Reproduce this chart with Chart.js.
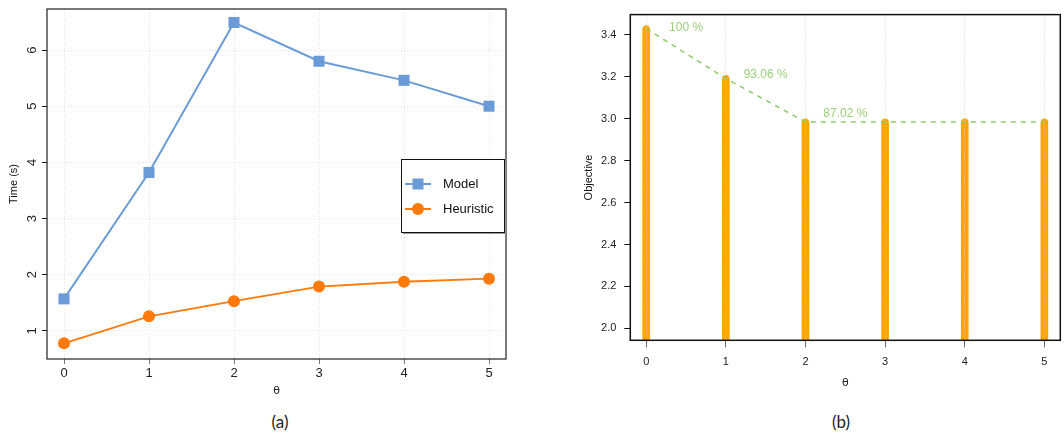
<!DOCTYPE html>
<html>
<head>
<meta charset="utf-8">
<script src="https://cdn.jsdelivr.net/npm/chart.js@4.4.1/dist/chart.umd.min.js"></script>
<style>
  body { margin: 0; background: #fff; width: 1064px; height: 436px; position: relative; overflow: hidden; }
  #left { position: absolute; left: 0; top: 0; }
  #right { position: absolute; left: 532px; top: 0; }
  .cap { position: absolute; top: 411px; font-family: Lato, sans-serif; font-size: 17px; color: #222; transform: translateX(-50%); }
</style>
</head>
<body>
<canvas id="left" width="532" height="398"></canvas>
<canvas id="right" width="532" height="390"></canvas>
<div class="cap" style="left:280px">(a)</div>
<div class="cap" style="left:841px">(b)</div>
<script>
// data
const theta = [0, 1, 2, 3, 4, 5];
const modelTime = [1.57, 3.82, 6.49, 5.80, 5.46, 5.00];
const heuristicTime = [0.78, 1.26, 1.53, 1.79, 1.875, 1.93];
const timeTicks = [1, 2, 3, 4, 5, 6];

const objective = [3.43, 3.192, 2.985, 2.985, 2.985, 2.985];
const ratioLabels = ['100 %', '93.06 %', '87.02 %'];
const objTicks = [2.0, 2.2, 2.4, 2.6, 2.8, 3.0, 3.2, 3.4];

const blue = '#6a9bd8';
const orange = '#ff7a0a';
const gold = '#ffa500';
const green = '#8fc96e';
const tickFont = { family: 'Liberation Sans', size: 13 };

const pts = (ys) => theta.map((t, i) => ({ x: t, y: ys[i] }));

//Left chart
const leftExtras = {
  id: 'leftExtras',
  afterDraw(chart) {
    const { ctx, chartArea: a, scales } = chart;
    ctx.save();
    ctx.strokeStyle = '#222'; ctx.lineWidth = 1.2;
    ctx.strokeRect(a.left, a.top, a.width, a.height);

    // y tick labels rotated, like R's default
    ctx.fillStyle = '#222';
    ctx.font = '13px "Liberation Sans"';
    ctx.textAlign = 'center';
    ctx.textBaseline = 'middle';
    timeTicks.forEach(v => {
      const y = scales.y.getPixelForValue(v);
      ctx.save();
      ctx.translate(a.left - 15, y);
      ctx.rotate(-Math.PI / 2);
      ctx.fillText(String(v), 0, 0);
      ctx.restore();
    });

    // legend box
    const lx = a.right - 105, ly = a.top + 150, lw = 103, lh = 73;
    ctx.fillStyle = '#999';
    ctx.fillRect(lx + 2, ly + 2, lw, lh);
    ctx.fillStyle = '#fff';
    ctx.fillRect(lx, ly, lw, lh);
    ctx.strokeStyle = '#111'; ctx.lineWidth = 1;
    ctx.strokeRect(lx + 0.5, ly + 0.5, lw, lh);

    const items = [
      { label: chart.data.datasets[0].label, color: blue, shape: 'rect', y: ly + 25 },
      { label: chart.data.datasets[1].label, color: orange, shape: 'circle', y: ly + 50 }
    ];
    items.forEach(it => {
      ctx.strokeStyle = it.color; ctx.lineWidth = 2;
      ctx.beginPath(); ctx.moveTo(lx + 4, it.y); ctx.lineTo(lx + 30, it.y); ctx.stroke();
      ctx.fillStyle = it.color;
      if (it.shape === 'rect') ctx.fillRect(lx + 17 - 5.5, it.y - 5.5, 11, 11);
      else { ctx.beginPath(); ctx.arc(lx + 17, it.y, 6, 0, Math.PI * 2); ctx.fill(); }
      ctx.fillStyle = '#111';
      ctx.textAlign = 'left';
      ctx.fillText(it.label, lx + 42, it.y);
    });
    ctx.restore();
  }
};

new Chart(document.getElementById('left').getContext('2d'), {
  type: 'line',
  data: {
    datasets: [{
      label: 'Model',
      data: pts(modelTime),
      borderColor: blue,
      backgroundColor: blue,
      borderWidth: 2,
      pointStyle: 'rect',
      pointRadius: 7.8,
      pointBorderWidth: 0,
      tension: 0
    }, {
      label: 'Heuristic',
      data: pts(heuristicTime),
      borderColor: orange,
      backgroundColor: orange,
      borderWidth: 1.8,
      pointStyle: 'circle',
      pointRadius: 6,
      pointBorderWidth: 0,
      tension: 0
    }]
  },
  options: {
    responsive: false,
    animation: false,
    layout: { padding: { top: 9, right: 26, left: 0, bottom: 0 } },
    plugins: { legend: { display: false }, tooltip: { enabled: false } },
    scales: {
      x: {
        type: 'linear', min: -0.2, max: 5.2, offset: false,
        afterBuildTicks: s => { s.ticks = theta.map(v => ({ value: v })); },
        afterFit: s => { s.height = 39; },
        grid: { color: '#e2e2e2', tickColor: '#777', tickLength: 5, offset: false },
        border: { display: false, dash: [1, 2] },
        ticks: { color: '#222', font: tickFont, padding: 2, maxRotation: 0 },
        title: { display: true, text: 'θ', color: '#222', font: { family: 'DejaVu Sans', size: 11 }, padding: { top: 0, bottom: 0 } }
      },
      y: {
        min: 0.5, max: 6.73,
        afterBuildTicks: s => { s.ticks = timeTicks.map(v => ({ value: v })); },
        afterFit: s => { s.width = 47; },
        grid: { color: '#e2e2e2', tickColor: '#111', tickLength: 5 },
        border: { display: false, dash: [1, 2] },
        ticks: { display: false },
        title: { display: true, text: 'Time (s)', color: '#111', font: { family: 'Liberation Sans', size: 11 }, padding: { top: 7, bottom: 0 } }
      }
    }
  },
  plugins: [leftExtras]
});

//Right chart
const barCaps = {
  id: 'barCaps',
  afterDatasetDraw(chart, args) {
    if (args.index !== 1) return;
    const { ctx, chartArea: a } = chart;
    ctx.save();
    ctx.beginPath();
    ctx.rect(a.left, a.top, a.width, a.height);
    ctx.clip();
    ctx.fillStyle = gold;
    args.meta.data.forEach(bar => {
      ctx.beginPath();
      ctx.arc(bar.x, bar.y, bar.width / 2, Math.PI, 0);
      ctx.fill();
    });
    ctx.restore();
  }
};

const rightExtras = {
  id: 'rightExtras',
  afterDraw(chart, args, opts) {
    const { ctx, chartArea: a, scales } = chart;
    ctx.save();
    ctx.strokeStyle = '#111'; ctx.lineWidth = 1.5;
    ctx.strokeRect(a.left, a.top, a.width, a.height);
    ctx.fillStyle = '#9bd07c';
    ctx.font = '12px "Liberation Sans"';
    ctx.textAlign = 'center';
    ctx.textBaseline = 'middle';
    ratioLabels.forEach((t, i) => {
      const x = scales.x.getPixelForValue(theta[i] + 0.5);
      const y = scales.y.getPixelForValue(objective[i]) - opts.nudge[i];
      ctx.fillText(t, x, y);
    });
    ctx.restore();
  }
};

new Chart(document.getElementById('right').getContext('2d'), {
  type: 'bar',
  data: {
    datasets: [{
      type: 'line',
      label: 'ratio',
      data: pts(objective),
      borderColor: green,
      borderWidth: 1.5,
      borderDash: [5, 5],
      pointRadius: 0,
      fill: false,
      order: 0
    }, {
      type: 'bar',
      label: 'Objective',
      data: pts(objective),
      backgroundColor: gold,
      barThickness: 7,
      borderRadius: 0,
      order: 1
    }]
  },
  options: {
    responsive: false,
    animation: false,
    layout: { padding: { top: 14, right: 3.7, left: 0, bottom: 0 } },
    plugins: { legend: { display: false }, tooltip: { enabled: false }, rightExtras: { nudge: [1, 4, 8.5] } },
    scales: {
      x: {
        type: 'linear', min: -0.2, max: 5.2, offset: false,
        afterBuildTicks: s => { s.ticks = theta.map(v => ({ value: v })); },
        afterFit: s => { s.height = 49.7; },
        grid: { color: 'rgba(205,205,205,0.8)', tickColor: '#666', tickLength: 7, offset: false, z: 1 },
        border: { display: false, dash: [1, 2] },
        ticks: { color: '#222', font: { family: 'Liberation Sans', size: 11 }, padding: 8, maxRotation: 0 },
        title: { display: true, text: 'θ', color: '#222', font: { family: 'DejaVu Sans', size: 11 }, padding: { top: 0, bottom: 0 } }
      },
      y: {
        min: 1.943, max: 3.497,
        afterBuildTicks: s => { s.ticks = objTicks.map(v => ({ value: v })); },
        afterFit: s => { s.width = 98.3; },
        grid: { drawOnChartArea: false, tickColor: '#111', tickLength: 6 },
        border: { display: false },
        ticks: { color: '#222', font: { family: 'Liberation Sans', size: 11 }, padding: 8, callback: v => v.toFixed(1) },
        title: { display: true, text: 'Objective', color: '#111', font: { family: 'Liberation Sans', size: 11 }, padding: { top: 50, bottom: 0 } }
      }
    }
  },
  plugins: [barCaps, rightExtras]
});
</script>
</body>
</html>
